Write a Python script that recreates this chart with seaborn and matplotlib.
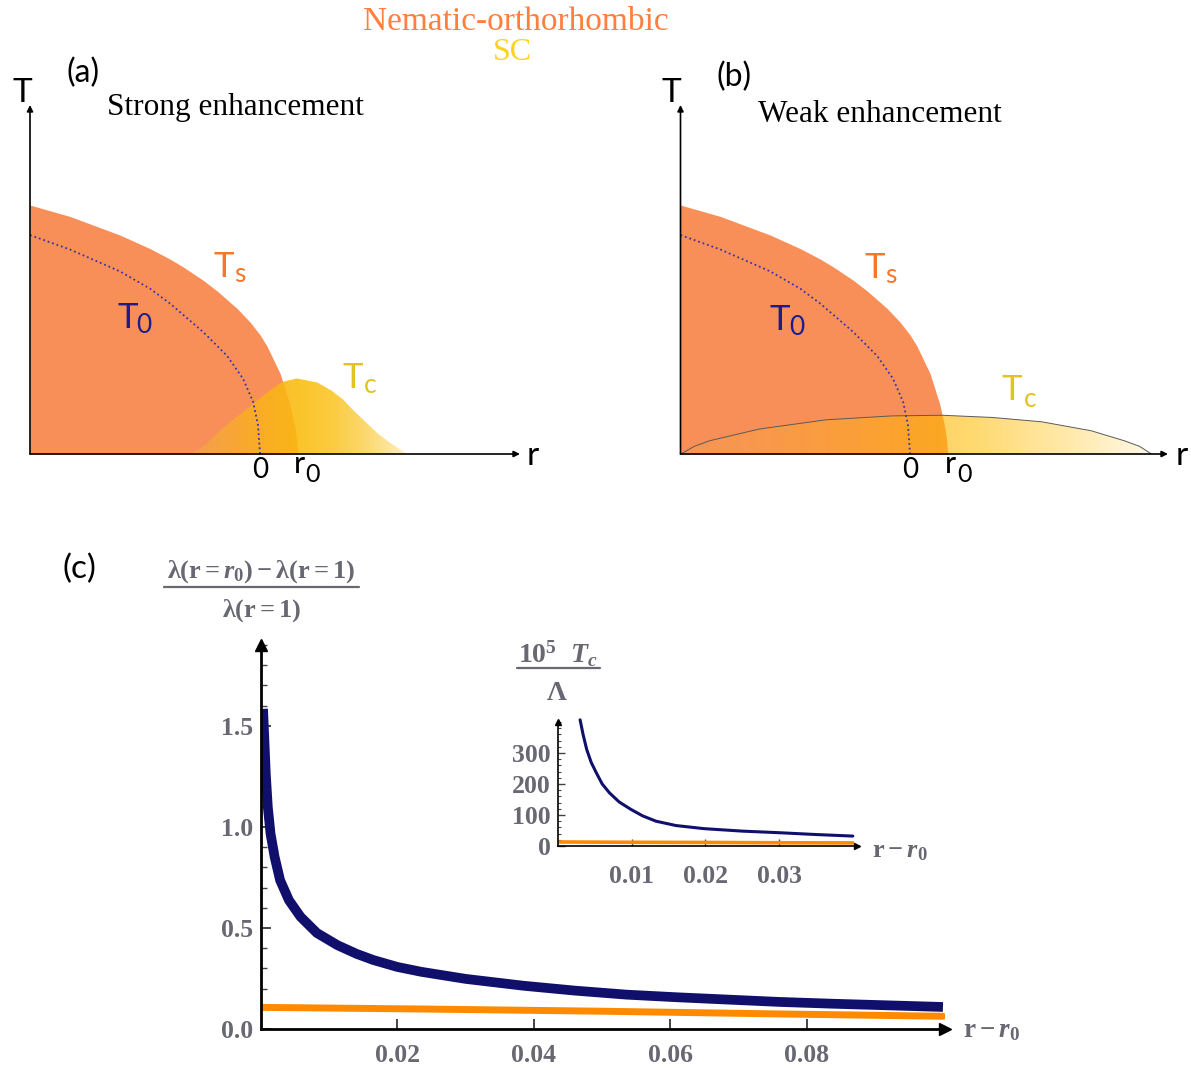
import numpy as np
import matplotlib
matplotlib.use("Agg")
import matplotlib.pyplot as plt
from matplotlib.colors import LinearSegmentedColormap
from matplotlib.lines import Line2D
from matplotlib.ticker import MultipleLocator
import seaborn as sns

W, H = 1191, 1070

# (a), (b): schematic boundaries; r = 0 where T0 vanishes, T0(r=-1) = 1
r_ts = [-1.0, -0.826, -0.609, -0.478, -0.391, -0.335, -0.248, -0.187, -0.100, -0.043, 0.0,
        0.030, 0.087, 0.130, 0.152, 0.160, 0.164]
t_ts = [1.137, 1.085, 1.0, 0.938, 0.890, 0.855, 0.794, 0.745, 0.665, 0.602, 0.544,
        0.493, 0.368, 0.226, 0.12, 0.06, 0.0]
r_t0 = [-1.0, -0.826, -0.609, -0.478, -0.391, -0.248, -0.143, -0.074, -0.030, -0.009, 0.0]
t_t0 = [1.0, 0.934, 0.834, 0.755, 0.687, 0.558, 0.448, 0.344, 0.238, 0.133, 0.0]
r_tc_strong = [-0.30, -0.24, -0.17, -0.10, -0.04, 0.03, 0.10, 0.16, 0.25, 0.31, 0.36, 0.41, 0.46,
               0.51, 0.56, 0.64]
t_tc_strong = [0.0, 0.04, 0.11, 0.17, 0.22, 0.28, 0.33, 0.345, 0.326, 0.29, 0.25, 0.195, 0.145,
               0.095, 0.055, 0.0]
r_tc_weak = [-0.998, -0.94, -0.875, -0.657, -0.368, -0.079, 0.14, 0.357, 0.574, 0.79, 0.935, 1.0,
             1.052]
t_tc_weak = [0.0, 0.035, 0.06, 0.114, 0.156, 0.174, 0.177, 0.167, 0.147, 0.106, 0.06, 0.035, 0.0]

# (c): [lambda(r=r0) - lambda(r=1)] / lambda(r=1) versus r - r0
dr_nem = [0.0003, 0.0005, 0.0007, 0.0010, 0.0014, 0.0020, 0.0028, 0.0041, 0.0058, 0.0082, 0.0112,
          0.014, 0.0165, 0.02, 0.0235, 0.03, 0.0385, 0.046, 0.0536, 0.061, 0.0688, 0.076, 0.0839,
          0.092, 0.1]
lam_nem = [1.584, 1.427, 1.263, 1.098, 0.966, 0.851, 0.736, 0.637, 0.555, 0.475, 0.415, 0.372, 0.341,
           0.307, 0.283, 0.248, 0.214, 0.19, 0.170, 0.157, 0.145, 0.134, 0.125, 0.117, 0.109]
dr_orth = [0.0, 0.0235, 0.05, 0.075, 0.1]
lam_orth = [0.107, 0.099, 0.088, 0.075, 0.063]

# inset: 1e5 Tc / Lambda
dr_in_nem = [0.0030, 0.0034, 0.0039, 0.0045, 0.0052, 0.0060, 0.0070, 0.0083, 0.0099, 0.0115, 0.0133,
             0.0160, 0.0198, 0.0250, 0.0299, 0.0350, 0.0400]
tc_in_nem = [407, 360, 311, 270, 236, 200, 171, 142, 118, 97, 80, 66, 56, 48, 43, 37, 32]
dr_in_orth = [0.0, 0.01, 0.02, 0.03, 0.0400]
tc_in_orth = [13, 12, 11.5, 10.5, 10]

main_xticks = [0.02, 0.04, 0.06, 0.08]
main_yticks = [0.0, 0.5, 1.0, 1.5]
main_ylabels = ["0.0", "0.5", "1.0", "1.5"]
inset_xticks = [0.01, 0.02, 0.03]
inset_yticks = [0, 100, 200, 300]

NAVY = "#10106c"
ORANGE = "#ff8a00"
TS_FILL = "#f98f58"
GRAY = "#686872"

sns.set_theme(style="ticks")
plt.rcParams["font.family"] = ["Liberation Serif", "DejaVu Serif"]
plt.rcParams.update({
    "mathtext.fontset": "custom",
    "mathtext.rm": "Liberation Serif:bold",
    "mathtext.it": "Liberation Serif:italic:bold",
    "mathtext.bf": "Liberation Serif:bold",
    "mathtext.fallback": "stix",
})

fig = plt.figure(figsize=(W / 100, H / 100), dpi=100)


def rect(x0, y0, x1, y1):
    return [x0 / W, 1 - y1 / H, (x1 - x0) / W, (y1 - y0) / H]


def txt(x, y, s, size, color="black", family="Lato", ha="center", **kw):
    fig.text(x / W, 1 - y / H, s, fontsize=size, color=color, family=family,
             ha=ha, va="baseline", **kw)


def frac_bar(x0, x1, y):
    fig.add_artist(Line2D([x0 / W, x1 / W], [1 - y / H, 1 - y / H], color=GRAY, lw=1.6))


def phase_panel(box, xmax, ymax, r_tc, t_tc, stops, alpha, outline):
    ax = fig.add_axes(box)
    ax.fill_between(r_ts, t_ts, 0, color=TS_FILL, lw=0, zorder=1)
    poly = ax.fill_between(r_tc, t_tc, 0, facecolor="none", lw=0, zorder=2)
    cmap = LinearSegmentedColormap.from_list("tc", stops)
    im = ax.imshow(np.linspace(0, 1, 512)[None, :], cmap=cmap, aspect="auto",
                   extent=(min(r_tc), max(r_tc), 0, max(t_tc)), alpha=alpha,
                   zorder=2, interpolation="bilinear")
    im.set_clip_path(poly.get_paths()[0], ax.transData)
    if outline:
        sns.lineplot(x=r_tc, y=t_tc, ax=ax, color="#5a5a5a", lw=0.7, sort=False, zorder=3)
    sns.lineplot(x=r_t0, y=t_t0, ax=ax, color="#3a2fae", lw=1.3, ls=(0, (1, 1.6)),
                 sort=False, zorder=4)
    arrow = dict(arrowstyle="-|>", color="black", lw=1.2, mutation_scale=9,
                 shrinkA=0, shrinkB=0)
    ax.annotate("", xy=(xmax, 0), xytext=(-1, 0), arrowprops=arrow, zorder=5)
    ax.annotate("", xy=(-1, ymax), xytext=(-1, 0), arrowprops=arrow, zorder=5)
    ax.set_xlim(-1, xmax)
    ax.set_ylim(0, ymax)
    ax.axis("off")


# ---- (a) strong enhancement
phase_panel(rect(30, 105, 520, 454), 1.130, 1.594, r_tc_strong, t_tc_strong,
            [(0.0, "#f4a050"), (0.3, "#f9b020"), (0.5, "#fbbc0c"), (0.65, "#fbc524"),
             (0.82, "#fcd560"), (1.0, "#feedb8")], 0.88, False)
# ---- (b) weak enhancement
phase_panel(rect(680.5, 105, 1168, 454), 1.124, 1.594, r_tc_weak, t_tc_weak,
            [(0.0, "#f5975a"), (0.3, "#fca630"), (0.55, "#ffb800"), (0.62, "#ffc010"),
             (0.85, "#ffdf80"), (1.0, "#fff4d8")], 0.6, True)

# legend-like header
txt(516, 30, "Nematic-orthorhombic", 24, color="#ff7f3c", family="Liberation Serif")
txt(512.5, 60, "SC", 23, color="#ffd21e", family="Liberation Serif")

# panel (a) labels
txt(22, 102, "T", 24)
txt(83.5, 82, "(a)", 23)
txt(107, 115, "Strong enhancement", 22.5, family="Liberation Serif", ha="left")
txt(223.5, 277, "T", 25, color="#f7772a")
txt(240, 282, "s", 19, color="#f7772a")
txt(127.5, 328, "T", 25, color="#1c1c8e")
txt(144, 333, "0", 19, color="#1c1c8e")
txt(353, 388, "T", 25, color="#e6c21c")
txt(370, 393, "c", 19, color="#e6c21c")
txt(260, 478, "0", 20)
txt(299.5, 473, "r", 22)
txt(312, 482, "0", 18)
txt(533, 465, "r", 24)

# panel (b) labels
txt(671.5, 102, "T", 24)
txt(734, 86, "(b)", 23)
txt(758, 122, "Weak enhancement", 22.5, family="Liberation Serif", ha="left")
txt(874.5, 278, "T", 25, color="#f7772a")
txt(891, 283, "s", 19, color="#f7772a")
txt(780, 330, "T", 25, color="#1c1c8e")
txt(797, 335, "0", 19, color="#1c1c8e")
txt(1011.5, 400, "T", 25, color="#e6c21c")
txt(1030, 407, "c", 19, color="#e6c21c")
txt(910.5, 478, "0", 20)
txt(950, 473, "r", 22)
txt(964, 482, "0", 18)
txt(1182, 465, "r", 24)


def style_axes(ax, spine_w, ms):
    sns.despine(ax=ax)
    for side in ("left", "bottom"):
        ax.spines[side].set_color("black")
        ax.spines[side].set_linewidth(spine_w)
    ax.plot(1, 0, marker=">", ms=ms, color="black", transform=ax.transAxes, clip_on=False)
    ax.plot(0, 1, marker="^", ms=ms, color="black", transform=ax.transAxes, clip_on=False)
    for lab in ax.get_xticklabels() + ax.get_yticklabels():
        lab.set_fontweight("bold")
        lab.set_color(GRAY)
        lab.set_fontsize(18.5)


# ---- (c) main plot
ax = fig.add_axes(rect(261, 645, 945, 1029))
sns.lineplot(x=dr_orth, y=lam_orth, ax=ax, color=ORANGE, lw=5, sort=False)
sns.lineplot(x=dr_nem, y=lam_nem, ax=ax, color=NAVY, lw=7, sort=False, solid_capstyle="butt")
ax.set_xlim(0, 0.1003)
ax.set_ylim(0, 1.9)
ax.set_xticks(main_xticks)
ax.set_yticks(main_yticks)
ax.set_yticklabels(main_ylabels)
ax.yaxis.set_minor_locator(MultipleLocator(0.1))
ax.tick_params(which="major", direction="in", length=7, width=1.4, color="#444444")
ax.tick_params(which="minor", direction="in", length=4, width=1.0, color="#444444")
ax.tick_params(axis="x", pad=11)
ax.tick_params(axis="y", pad=6)
style_axes(ax, 2.0, 8)

txt(79, 578, "(c)", 24)
txt(261, 578, r"$\mathrm{\lambda(r{=}}r_{\mathrm{0}}\mathrm{)}-\mathrm{\lambda(r{=}1)}$", 19,
    color=GRAY, family="Liberation Serif")
frac_bar(164, 359, 587)
txt(262, 617, r"$\mathrm{\lambda(r{=}1)}$", 19, color=GRAY, family="Liberation Serif")
txt(963, 1037, r"$\mathrm{r}-r_{\mathrm{0}}$", 19.5, color=GRAY, family="Liberation Serif", ha="left")

# ---- inset
ax2 = fig.add_axes(rect(558, 722, 856.5, 846))
sns.lineplot(x=dr_in_orth, y=tc_in_orth, ax=ax2, color=ORANGE, lw=2.6, sort=False)
sns.lineplot(x=dr_in_nem, y=tc_in_nem, ax=ax2, color=NAVY, lw=2.2, sort=False, clip_on=False)
ax2.set_xlim(0, 0.0405)
ax2.set_ylim(0, 400)
ax2.set_xticks(inset_xticks)
ax2.set_yticks(inset_yticks)
ax2.yaxis.set_minor_locator(MultipleLocator(20))
ax2.tick_params(which="major", direction="in", length=5, width=1.0, color="#444444")
ax2.tick_params(which="minor", direction="in", length=2.5, width=0.8, color="#444444")
ax2.tick_params(axis="x", pad=14)
ax2.tick_params(axis="y", pad=5)
style_axes(ax2, 1.2, 5)

txt(558, 663, r"$\mathrm{10}^{\mathrm{5}}\ \ T_{c}$", 20, color=GRAY, family="Liberation Serif")
frac_bar(517, 600, 668)
txt(557, 700, r"$\mathrm{\Lambda}$", 20, color=GRAY, family="Liberation Serif")
txt(872, 857, r"$\mathrm{r}-r_{\mathrm{0}}$", 19, color=GRAY, family="Liberation Serif", ha="left")

fig.savefig("out.png", dpi=100)
